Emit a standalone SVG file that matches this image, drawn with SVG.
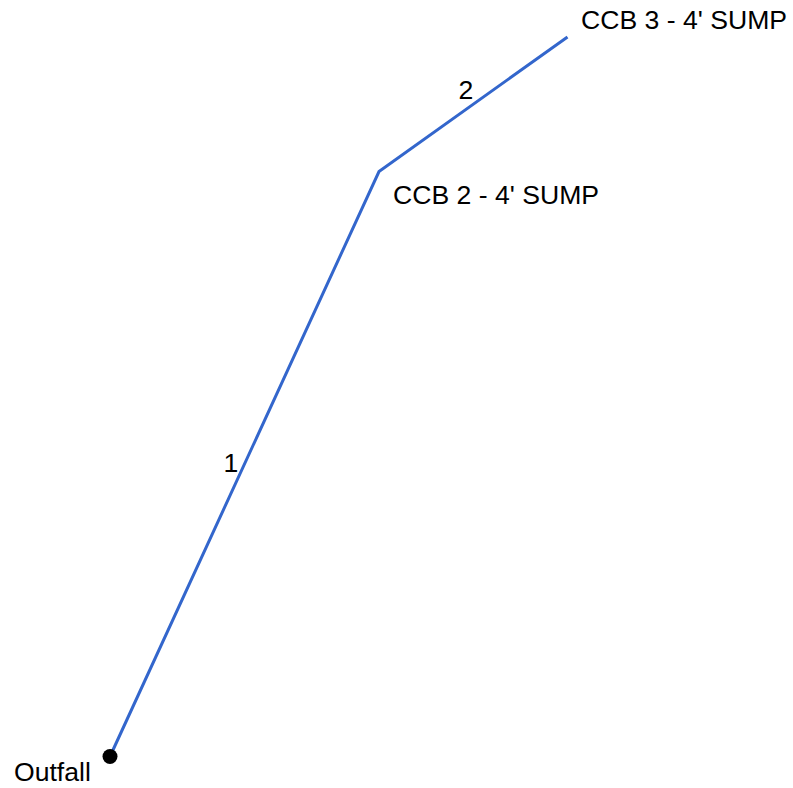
<svg xmlns="http://www.w3.org/2000/svg" width="793" height="788" viewBox="0 0 793 788">
<style>
text{font-family:"Liberation Sans",Arial,sans-serif;font-size:26.6px;fill:#000}
.pipe{fill:none;stroke:#3366cc;stroke-width:3;stroke-linejoin:miter}
</style>
<rect width="793" height="788" fill="#fff"/>
<g id="connectors">
<polyline class="pipe" points="110,756.5 379,171.5 567.5,37"/>
<text x="231" y="472" text-anchor="middle">1</text>
<text x="466" y="99" text-anchor="middle">2</text>
</g>
<g id="outfall">
<circle cx="110" cy="756.5" r="7.5" fill="#000"/>
<text x="14" y="781">Outfall</text>
</g>
<g id="ccb2">
<text x="393" y="204">CCB 2 - 4' SUMP</text>
</g>
<g id="ccb3">
<text x="581" y="29">CCB 3 - 4' SUMP</text>
</g>
</svg>
